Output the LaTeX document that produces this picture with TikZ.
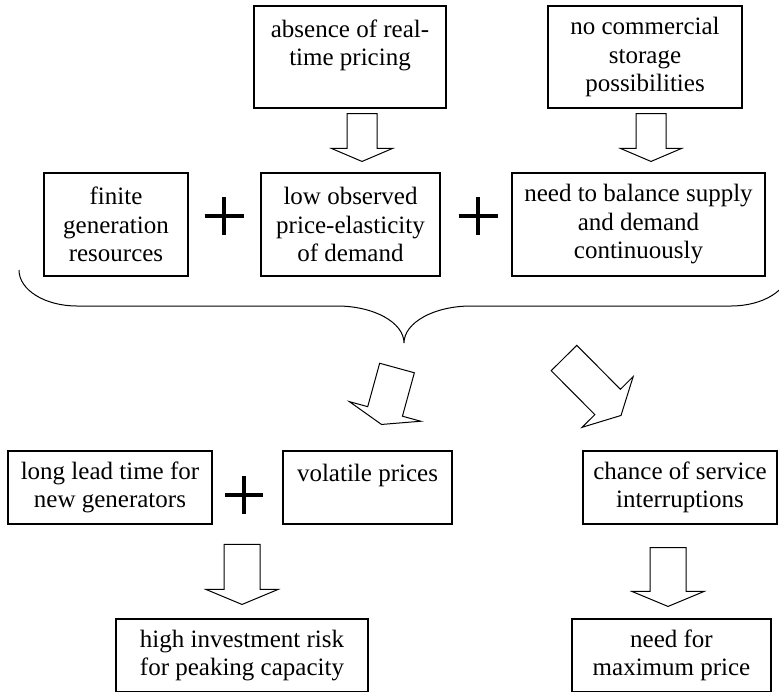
\documentclass[tikz,border=0pt]{standalone}
\usepackage{fontspec}
\setmainfont{Liberation Serif}
\newfontfamily\boxfont{Liberation Serif}
\usetikzlibrary{calc}

% block arrow: start, tip, shaft half width, head half width, head length
\newcommand{\blockarrow}[5]{%
  \coordinate (ba) at ($(#2)!#5!(#1)$);
  \path[draw=black,fill=white,line width=1pt]
    ($(#1)!#3!90:(#2)$) -- ($(ba)!#3!90:(#2)$) -- ($(ba)!#4!90:(#2)$) -- (#2)
    -- ($(ba)!#4!-90:(#2)$) -- ($(ba)!#3!-90:(#2)$) -- ($(#1)!#3!-90:(#2)$) -- cycle;
}

\begin{document}
\begin{tikzpicture}[x=1pt,y=-1pt,
  box/.style={draw=black,line width=1.1pt,align=center,inner sep=0pt,
    font=\boxfont\fontsize{25}{28.5}\selectfont,execute at begin node={\rule{0pt}{23pt}}},
  plus/.style={draw=black,line width=4pt},
  brace/.style={draw=black,line width=1pt}]

\useasboundingbox (0,0) rectangle (779,691);
\clip (0,0) rectangle (779,691);

%top
\node[box,minimum width=192pt,minimum height=102pt] (absence) at (350,57) {absence of real-\\time pricing\\~};
\node[box,minimum width=194pt,minimum height=102pt] (storage) at (645,57) {no commercial\\storage\\possibilities};

%row 2
\node[box,minimum width=144pt,minimum height=103pt] (finite) at (116,224.5) {finite\\generation\\resources};
\node[box,minimum width=179pt,minimum height=103pt] (elastic) at (350.5,224.5) {low observed\\price-elasticity\\of demand};
\node[box,minimum width=253pt,minimum height=103pt] (balance) at (638.5,224.5) {need to balance supply\\and demand\\continuously};
\path[plus] (224,197) -- (224,235) (204.5,216) -- (243.5,216);
\path[plus] (478,197) -- (478,235) (458.5,216) -- (497.5,216);

%brace
\coordinate (bracetip) at (404,343);
\path[brace] (19,270) .. controls (19,290) and (45,306) .. (77,306) -- (337,306)
  .. controls (374,306) and (404,322.6) .. (bracetip)
  .. controls (404,322.6) and (434,306) .. (471,306) -- (731,306)
  .. controls (763,306) and (789,290) .. (789,270);

%row 3
\node[box,minimum width=204pt,minimum height=73pt] (leadtime) at (110,487.5) {long lead time for\\new generators};
\node[box,minimum width=169pt,minimum height=73pt] (volatile) at (367.5,487.5) {volatile prices\\~};
\node[box,minimum width=194pt,minimum height=73pt] (chance) at (680,487.5) {chance of service\\interruptions};
\path[plus] (244,476) -- (244,514) (225,495) -- (263,495);

%row 4
\node[box,minimum width=252pt,minimum height=73pt] (risk) at (242,655.5) {high investment risk\\for peaking capacity};
\node[box,minimum width=199pt,minimum height=73pt] (maxprice) at (671.5,655.5) {need for\\maximum price};

%arrows
\coordinate (a1) at ($(absence.south)+(12,5)$);
\coordinate (a1t) at ($(elastic.north)+(11.5,-11)$);
\blockarrow{a1}{a1t}{15pt}{30.5pt}{13pt}
\coordinate (a2) at ($(storage.south)+(6,5)$);
\coordinate (a2t) at ($(balance.north)+(12.5,-11)$);
\blockarrow{a2}{a2t}{15pt}{30.5pt}{13pt}
\coordinate (a3) at ($(bracetip)+(-7,25)$);
\coordinate (a3t) at ($(volatile.north)+(14,-26)$);
\blockarrow{a3}{a3t}{18pt}{37pt}{13.5pt}
\coordinate (a4) at ($(bracetip)+(160,15)$);
\coordinate (a4t) at ($(chance.north)+(-59,-35)$);
\blockarrow{a4}{a4t}{18pt}{36pt}{19pt}
\coordinate (a5) at ($(risk.north)+(0,-74)$);
\coordinate (a5t) at ($(risk.north)+(0,-14)$);
\blockarrow{a5}{a5t}{18pt}{36pt}{15pt}
\coordinate (a6) at ($(chance.south)+(-12,23)$);
\coordinate (a6t) at ($(maxprice.north)+(-3.5,-12)$);
\blockarrow{a6}{a6t}{18pt}{36pt}{15pt}

\end{tikzpicture}
\end{document}
